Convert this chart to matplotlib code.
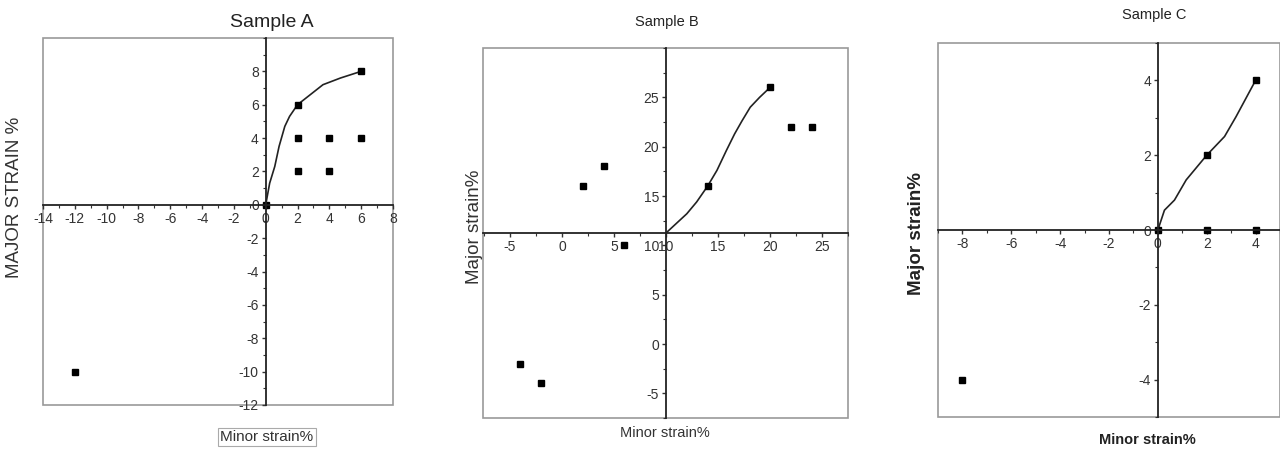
import matplotlib.pyplot as plt
from matplotlib.patches import Rectangle
from matplotlib.ticker import MultipleLocator

plt.rcParams['font.family'] = ['Liberation Sans', 'DejaVu Sans']
plt.rcParams['axes.unicode_minus'] = False

# Sample A
a_x = [0, 2, 6, 2, 4, 6, 2, 4, -12]
a_y = [0, 6, 8, 4, 4, 4, 2, 2, -10]
a_curve_x = [0, 0.25, 0.57, 0.84, 1.2, 1.5, 2, 2.8, 3.6, 4.7, 6]
a_curve_y = [0, 1.3, 2.3, 3.5, 4.7, 5.3, 6, 6.6, 7.2, 7.6, 8]

# Sample B
b_x = [2, 4, 6, -4, -2, 14, 20, 22, 24]
b_y = [16, 18, 10, -2, -4, 16, 26, 22, 22]
b_curve_x = [10, 12, 12.95, 14, 14.9, 15.8, 16.6, 17.3, 18.1, 19, 20]
b_curve_y = [11.25, 13.2, 14.4, 16, 17.6, 19.6, 21.3, 22.6, 24, 25, 26]

# Sample C
c_x = [0, 2, 4, 2, 4, -8]
c_y = [0, 0, 0, 2, 4, -4]
c_curve_x = [0, 0.27, 0.68, 1.16, 2, 2.73, 3.2, 4]
c_curve_y = [0, 0.53, 0.8, 1.34, 2, 2.5, 3.03, 4]


def setup(ax, xlim, ylim, cross, xmaj, xmin, ymaj, ymin):
    ax.set_xlim(*xlim)
    ax.set_ylim(*ylim)
    ax.spines['left'].set_position(('data', cross[0]))
    ax.spines['bottom'].set_position(('data', cross[1]))
    ax.spines['top'].set_visible(False)
    ax.spines['right'].set_visible(False)
    for s in ('left', 'bottom'):
        ax.spines[s].set_color('#222222')
        ax.spines[s].set_linewidth(1.3)
    ax.add_patch(Rectangle((0, 0), 1, 1, transform=ax.transAxes, fill=False,
                           edgecolor='#999999', lw=1.2, clip_on=False))
    ax.xaxis.set_major_locator(MultipleLocator(xmaj))
    ax.xaxis.set_minor_locator(MultipleLocator(xmin))
    ax.yaxis.set_major_locator(MultipleLocator(ymaj))
    ax.yaxis.set_minor_locator(MultipleLocator(ymin))
    ax.tick_params(which='major', direction='out', length=3, width=1,
                   color='#333333', labelsize=10, labelcolor='#333333', pad=2)
    ax.tick_params(which='minor', direction='out', length=2, width=0.8,
                   color='#333333')


fig = plt.figure(figsize=(12.8, 4.5), dpi=100)

axA = fig.add_axes([0.0336, 0.1, 0.2734, 0.8156])
setup(axA, (-14, 8), (-12, 10), (0, 0), 2, 1, 2, 1)
axA.plot(a_curve_x, a_curve_y, color='#222222', lw=1.2)
axA.plot(a_x, a_y, 's', color='black', ms=4.8, clip_on=False)
axA.set_yticks([-12, -10, -8, -6, -4, -2, 0, 2, 4, 6, 8])

axB = fig.add_axes([0.3773, 0.0711, 0.2852, 0.8222])
setup(axB, (-7.6, 27.5), (-7.5, 30), (10, 11.25), 5, 2.5, 5, 2.5)
axB.plot(b_curve_x, b_curve_y, color='#222222', lw=1.2)
axB.plot(b_x, b_y, 's', color='black', ms=4.8)
axB.set_yticks([-5, 0, 5, 10, 15, 20, 25])
axB.set_xticks([-5, 0, 5, 10, 15, 20, 25])

axC = fig.add_axes([0.7328, 0.0733, 0.2672, 0.8311])
setup(axC, (-9, 5), (-5, 5), (0, 0), 2, 1, 2, 1)
axC.plot(c_curve_x, c_curve_y, color='#222222', lw=1.2)
axC.plot(c_x, c_y, 's', color='black', ms=4.8, clip_on=False)
axC.set_xticks([-8, -6, -4, -2, 0, 2, 4])
axC.set_yticks([-4, -2, 0, 2, 4])

# titles and labels
fig.text(0.2125, 0.951, 'Sample A', ha='center', va='center', fontsize=14,
         color='#222222')
fig.text(0.521, 0.951, 'Sample B', ha='center', va='center', fontsize=10.5,
         color='#222222')
fig.text(0.902, 0.967, 'Sample C', ha='center', va='center', fontsize=10.5,
         color='#222222')

fig.text(0.0117, 0.562, 'MAJOR STRAIN %', rotation=90, ha='center', va='center',
         fontsize=13.5, color='#333333')
fig.text(0.371, 0.496, 'Major strain%', rotation=90, ha='center', va='center',
         fontsize=13.5, color='#333333')
fig.text(0.716, 0.482, 'Major strain%', rotation=90, ha='center', va='center',
         fontsize=13.5, fontweight='bold', color='#222222')

fig.text(0.2086, 0.029, 'Minor strain%', ha='center', va='center', fontsize=11,
         color='#333333',
         bbox=dict(boxstyle='square,pad=0.15', fc='white', ec='#aaaaaa', lw=0.8))
fig.text(0.5195, 0.038, 'Minor strain%', ha='center', va='center', fontsize=10.5,
         color='#333333')
fig.text(0.896, 0.022, 'Minor strain%', ha='center', va='center', fontsize=10.5,
         fontweight='bold', color='#222222')

fig.savefig('out.png', dpi=100)
